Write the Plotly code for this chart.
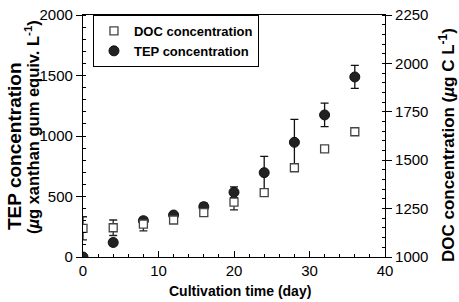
import plotly.graph_objects as go

days = [0, 4, 8, 12, 16, 20, 24, 28, 32, 36]
tep = [0, 120, 300, 347, 416, 535, 697, 948, 1174, 1488]
tep_err = [0, 25, 25, 15, 30, 45, 135, 190, 97, 95]
doc = [1148, 1151, 1170, 1191, 1229, 1283, 1332, 1461, 1559, 1647]
doc_err = [60, 40, 35, 10, 15, 40, 10, 0, 0, 0]

FONT = "Liberation Sans, Arial, Helvetica, sans-serif"
W, H = 459, 302
L, R, T, B = 83, 74, 15, 45

fig = go.Figure()
fig.add_trace(go.Scatter(
    x=days, y=tep, mode="markers", name="TEP concentration", legendrank=2,
    marker=dict(symbol="circle", size=10, color="#222222", line=dict(color="#111111", width=1)),
    error_y=dict(type="data", array=tep_err, color="#111111", thickness=1.3, width=4),
    yaxis="y"))
fig.add_trace(go.Scatter(
    x=days, y=doc, mode="markers", name="DOC concentration", legendrank=1,
    marker=dict(symbol="square", size=8, color="white", line=dict(color="#444444", width=1.3)),
    error_y=dict(type="data", array=doc_err, color="#222222", thickness=1.3, width=4),
    yaxis="y2"))

axis_common = dict(showline=True, linecolor="black", linewidth=1.2, showgrid=False, zeroline=False,
                   automargin=False,
                   tickfont=dict(family=FONT, size=15, color="black"), ticklen=6, tickcolor="black")

fig.update_layout(
    width=W, height=H,
    margin=dict(l=L, r=R, t=T, b=B, autoexpand=False),
    plot_bgcolor="white", paper_bgcolor="white",
    showlegend=True,
    legend=dict(x=0.033, y=1.0, xanchor="left", yanchor="top", bordercolor="black", borderwidth=1,
                bgcolor="white", font=dict(family=FONT, size=13, color="black", weight="bold"),
                itemwidth=30, tracegroupgap=0),
    xaxis=dict(range=[0, 40], tickvals=[0, 10, 20, 30, 40], ticks="inside", mirror=True,
               minor=dict(dtick=2, ticks="inside", ticklen=3, tickcolor="black"),
               **axis_common),
    yaxis=dict(range=[0, 2000], tickvals=[0, 500, 1000, 1500, 2000], ticks="outside",
               minor=dict(dtick=100, ticks="inside", ticklen=3, tickcolor="black"),
               **axis_common),
    yaxis2=dict(range=[1000, 2250], tickvals=[1000, 1250, 1500, 1750, 2000, 2250], ticks="outside",
                overlaying="y", side="right",
                minor=dict(dtick=50, ticks="inside", ticklen=3, tickcolor="black"),
                **axis_common),
)

pw = W - L - R
ph = H - T - B
def px(x):
    return (x - L) / pw
def py(y):
    return (H - B - y) / ph

ann = dict(xref="paper", yref="paper", showarrow=False, xanchor="center", yanchor="middle")
fig.add_annotation(text="Cultivation time (day)", x=px(240), y=py(291), **ann,
                   font=dict(family=FONT, size=14, color="black", weight="bold"))
fig.add_annotation(text="TEP concentration", x=px(14), y=py(146), textangle=-90, **ann,
                   font=dict(family=FONT, size=19, color="black", weight="bold"))
fig.add_annotation(text="(<i>µ</i>g xanthan gum equiv. L<sup>-1</sup>)", x=px(32), y=py(127),
                   textangle=-90, **ann,
                   font=dict(family=FONT, size=16.5, color="black", weight="bold"))
fig.add_annotation(text="DOC concentration (<i>µ</i>g C L<sup>-1</sup>)", x=px(447), y=py(145),
                   textangle=-90, **ann,
                   font=dict(family=FONT, size=17, color="black", weight="bold"))

fig.write_html("out.html", config={"displayModeBar": False},
               post_script="document.body.style.margin='0';")
